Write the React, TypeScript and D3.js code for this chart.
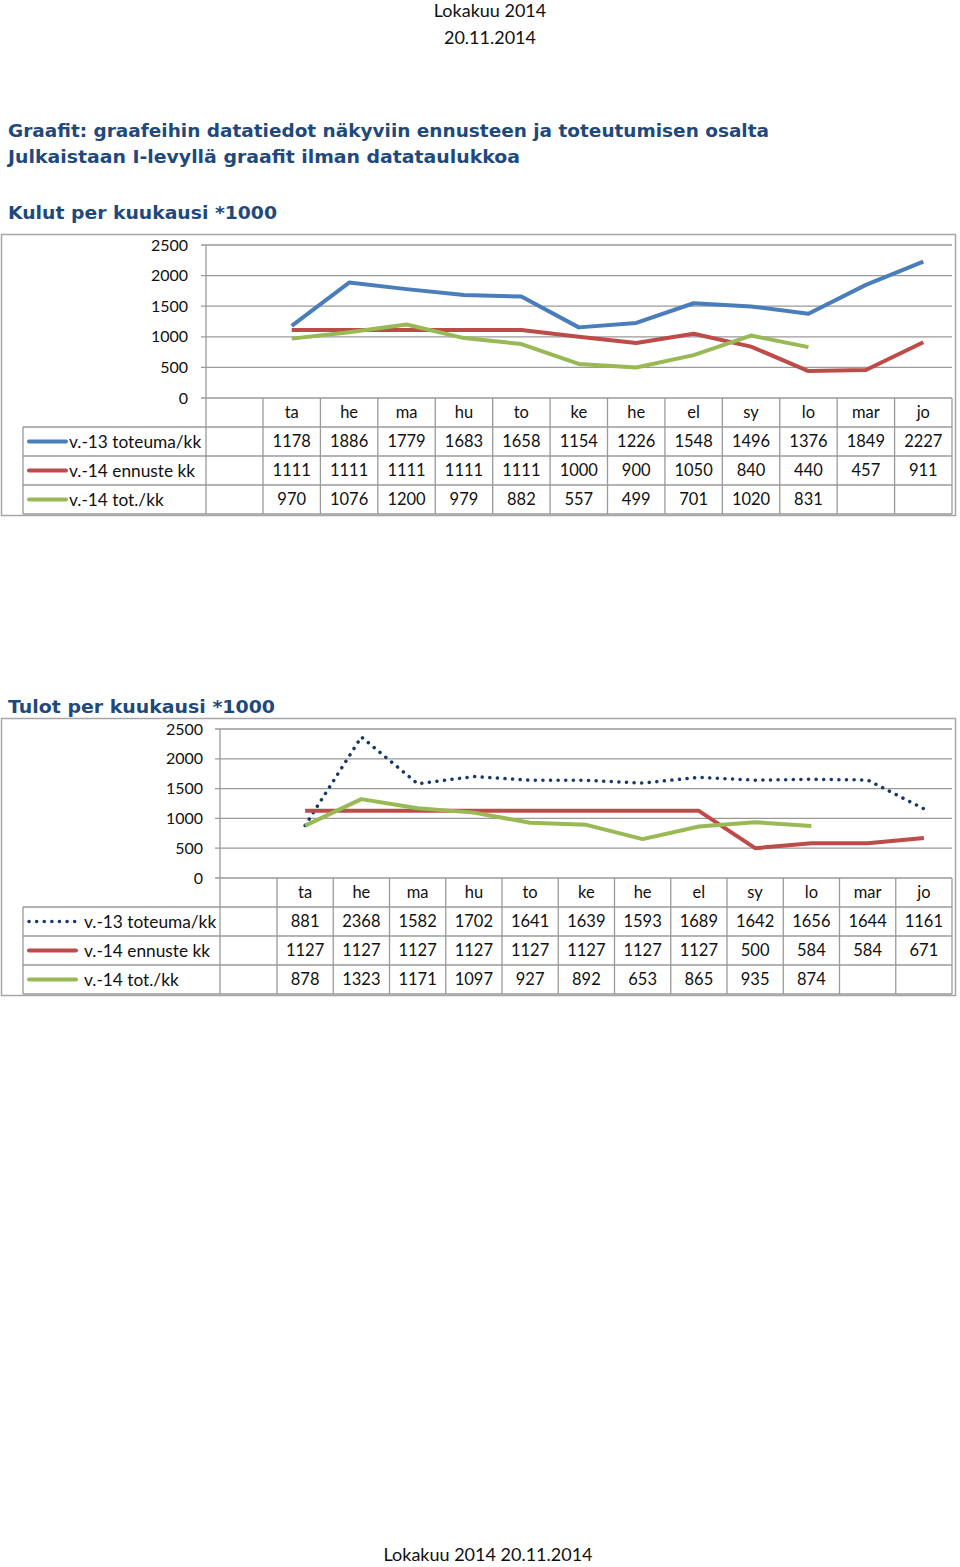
import * as d3 from 'd3';

const months = ['ta', 'he', 'ma', 'hu', 'to', 'ke', 'he', 'el', 'sy', 'lo', 'mar', 'jo'];
const yTicks = [0, 500, 1000, 1500, 2000, 2500];

const kulut13 = [1178, 1886, 1779, 1683, 1658, 1154, 1226, 1548, 1496, 1376, 1849, 2227];
const kulutEnnuste14 = [1111, 1111, 1111, 1111, 1111, 1000, 900, 1050, 840, 440, 457, 911];
const kulutTot14 = [970, 1076, 1200, 979, 882, 557, 499, 701, 1020, 831];

const tulot13 = [881, 2368, 1582, 1702, 1641, 1639, 1593, 1689, 1642, 1656, 1644, 1161];
const tulotEnnuste14 = [1127, 1127, 1127, 1127, 1127, 1127, 1127, 1127, 500, 584, 584, 671];
const tulotTot14 = [878, 1323, 1171, 1097, 927, 892, 653, 865, 935, 874];

const seriesNames = ['v.-13 toteuma/kk', 'v.-14 ennuste kk', 'v.-14 tot./kk'];

const TITLE = '#1f497d';
const GRID = '#9a9a9a';
const FONT = 'Lato, "Open Sans", sans-serif';

interface Series {
  name: string;
  values: number[];
  color: string;
  dotted?: boolean;
}

interface ChartProps {
  series: Series[];
  boxTop: number;
  boxBottom: number;
  plotTop: number;
  zeroY: number;
  plotLeft: number;
  catLeft: number;
  right: number;
  tickRight: number;
  legendTextX: number;
  keyEnd: number;
}

function LineTableChart({
  series, boxTop, boxBottom, plotTop, zeroY, plotLeft, catLeft, right, tickRight, legendTextX, keyEnd
}: ChartProps) {
  const rowH = 29;
  const legendLeft = 23;
  const x = d3.scaleBand<number>().domain(months.map((_, i) => i)).range([catLeft, right]).padding(0);
  const bw = x.bandwidth();
  const cx = (i: number) => (x(i) ?? 0) + bw / 2;
  const y = d3.scaleLinear().domain([0, 2500]).range([zeroY, plotTop]);
  const line = d3.line<number>().x((_, i) => cx(i)).y((d) => y(d));
  const tableBottom = zeroY + rowH * 4;

  return (
    <g fontFamily={FONT} fontSize={16.5}>
      {/* outer frame */}
      <rect x={1.5} y={boxTop + 0.5} width={954} height={boxBottom - boxTop} fill="none" stroke="#a6a6a6" strokeWidth={1.5} />

      {/* gridlines + y labels */}
      {yTicks.map((t) => (
        <g key={t}>
          <line x1={plotLeft - 5} x2={right} y1={y(t)} y2={y(t)} stroke={GRID} strokeWidth={1.3} />
          <text x={tickRight} y={y(t)} dy="0.35em" textAnchor="end" fill="#111" fontSize={16}>{t}</text>
        </g>
      ))}

      {/* table grid */}
      <line x1={plotLeft} x2={plotLeft} y1={plotTop} y2={tableBottom} stroke={GRID} strokeWidth={1.3} />
      <line x1={catLeft} x2={catLeft} y1={zeroY} y2={tableBottom} stroke={GRID} strokeWidth={1.3} />
      {months.map((_, i) => (
        <line key={i} x1={(x(i) ?? 0) + bw} x2={(x(i) ?? 0) + bw} y1={zeroY} y2={tableBottom} stroke={GRID} strokeWidth={1.3} />
      ))}
      <line x1={legendLeft} x2={legendLeft} y1={zeroY + rowH} y2={tableBottom} stroke={GRID} strokeWidth={1.3} />
      {[1, 2, 3, 4].map((r) => (
        <line key={r} x1={legendLeft} x2={right} y1={zeroY + rowH * r} y2={zeroY + rowH * r} stroke={GRID} strokeWidth={1.3} />
      ))}

      {/* month headers */}
      {months.map((m, i) => (
        <text key={i} x={cx(i)} y={zeroY + rowH / 2} dy="0.35em" textAnchor="middle" fill="#111">{m}</text>
      ))}

      {/* rows */}
      {series.map((s, r) => {
        const rowMid = zeroY + rowH * (r + 1) + rowH / 2;
        return (
          <g key={s.name}>
            <line
              x1={legendLeft + 6} x2={keyEnd} y1={rowMid} y2={rowMid}
              stroke={s.color}
              strokeWidth={s.dotted ? 3.5 : 4}
              strokeLinecap="round"
              strokeDasharray={s.dotted ? '0.1 7.5' : undefined}
            />
            <text x={legendTextX} y={rowMid} dy="0.35em" fill="#111" fontSize={17.3}>{s.name}</text>
            {s.values.map((v, i) => (
              <text key={i} x={cx(i)} y={rowMid} dy="0.35em" textAnchor="middle" fill="#111">{v}</text>
            ))}
          </g>
        );
      })}

      {/* lines */}
      {series.map((s) => (
        <path
          key={s.name}
          d={line(s.values) ?? undefined}
          fill="none"
          stroke={s.color}
          strokeWidth={s.dotted ? 3.5 : 4}
          strokeLinejoin="round"
          strokeLinecap={s.dotted ? 'round' : 'butt'}
          strokeDasharray={s.dotted ? '0.1 7.5' : undefined}
        />
      ))}
    </g>
  );
}

export default function App() {
  const kulutSeries: Series[] = [
    { name: seriesNames[0], values: kulut13, color: '#4a7ebb' },
    { name: seriesNames[1], values: kulutEnnuste14, color: '#be4b48' },
    { name: seriesNames[2], values: kulutTot14, color: '#98b954' },
  ];
  const tulotSeries: Series[] = [
    { name: seriesNames[0], values: tulot13, color: '#1a3a66', dotted: true },
    { name: seriesNames[1], values: tulotEnnuste14, color: '#be4b48' },
    { name: seriesNames[2], values: tulotTot14, color: '#98b954' },
  ];

  return (
    <svg width={960} height={1567} style={{ position: 'absolute', left: 0, top: 0, background: '#fff' }}>
      <g fontFamily={FONT} fontSize={18} fill="#111" textAnchor="middle">
        <text x={490} y={17}>Lokakuu 2014</text>
        <text x={490} y={44}>20.11.2014</text>
        <text x={488} y={1561}>Lokakuu 2014 20.11.2014</text>
      </g>

      <g fontFamily='"DejaVu Sans", Verdana, sans-serif' fontWeight="bold" fontSize={18} fill={TITLE}>
        <text x={8} y={137} textLength={761} lengthAdjust="spacingAndGlyphs">
          Graafit: graafeihin datatiedot näkyviin ennusteen ja toteutumisen osalta
        </text>
        <text x={8} y={163} textLength={512} lengthAdjust="spacingAndGlyphs">
          Julkaistaan I-levyllä graafit ilman datataulukkoa
        </text>
        <text x={8} y={219} textLength={269} lengthAdjust="spacingAndGlyphs">Kulut per kuukausi *1000</text>
        <text x={8} y={713} textLength={267} lengthAdjust="spacingAndGlyphs">Tulot per kuukausi *1000</text>
      </g>

      <LineTableChart
        series={kulutSeries}
        boxTop={234}
        boxBottom={515}
        plotTop={245}
        zeroY={398}
        plotLeft={206}
        catLeft={263}
        right={952}
        tickRight={188}
        legendTextX={69}
        keyEnd={66}
      />
      <LineTableChart
        series={tulotSeries}
        boxTop={718}
        boxBottom={995}
        plotTop={729}
        zeroY={878}
        plotLeft={220}
        catLeft={277}
        right={952}
        tickRight={203}
        legendTextX={84}
        keyEnd={76}
      />
    </svg>
  );
}
